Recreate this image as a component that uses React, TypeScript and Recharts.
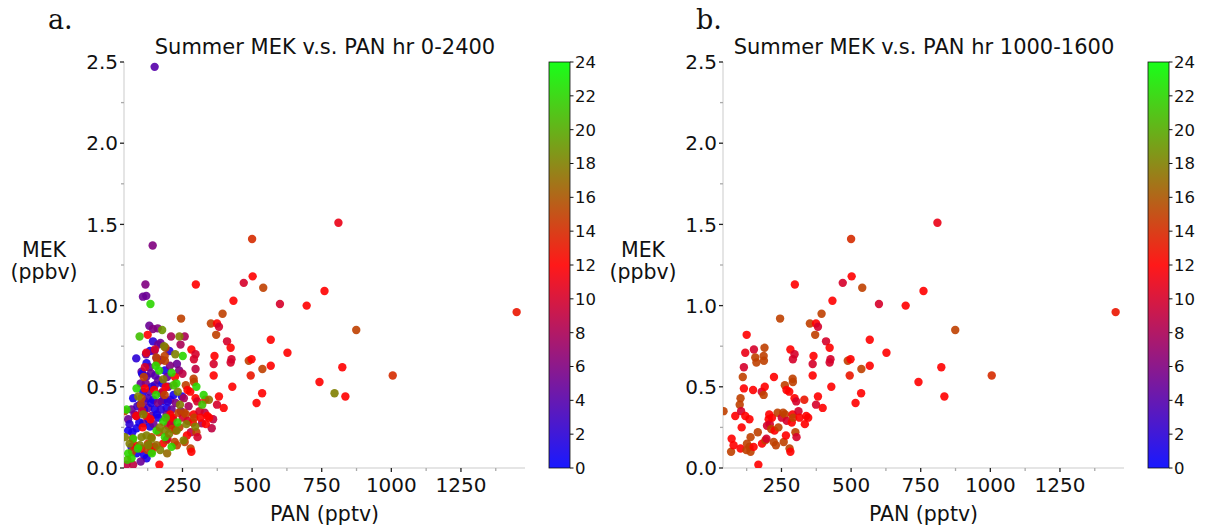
import React from "react";
import { ScatterChart, Scatter, XAxis, YAxis } from "recharts";

// [PAN pptv, MEK ppbv, hour]
const midday: number[][] = [
  [42, 0.35, 15], [69, 0.1, 15], [71, 0.18, 12], [78, 0.14, 12], [84, 0.32, 12], [100, 0.39, 15],
  [103, 0.43, 15], [103, 0.12, 12], [105, 0.35, 10], [107, 0.25, 12], [111, 0.56, 15], [115, 0.62, 10],
  [115, 0.49, 12], [120, 0.71, 11], [120, 0.32, 12], [124, 0.11, 15], [125, 0.82, 12], [126, 0.15, 15],
  [135, 0.3, 12], [135, 0.13, 15], [139, 0.19, 15], [139, 0.1, 15], [148, 0.48, 12], [150, 0.13, 12],
  [151, 0.73, 10], [156, 0.68, 15], [160, 0.65, 15], [165, 0.22, 15], [167, 0.02, 12], [179, 0.47, 10],
  [180, 0.15, 12], [186, 0.69, 15], [187, 0.66, 15], [189, 0.74, 15], [186, 0.45, 15], [190, 0.5, 12],
  [192, 0.17, 15], [196, 0.18, 10], [198, 0.26, 10], [204, 0.3, 12], [206, 0.33, 12], [208, 0.27, 10],
  [213, 0.24, 15], [216, 0.31, 12], [222, 0.16, 15], [223, 0.56, 12], [225, 0.23, 12], [230, 0.14, 15],
  [236, 0.34, 15], [239, 0.25, 15], [245, 0.92, 15], [251, 0.31, 10], [256, 0.34, 15], [258, 0.16, 15],
  [262, 0.51, 15], [263, 0.33, 15], [266, 0.2, 12], [268, 0.48, 12], [269, 0.29, 10], [278, 0.47, 12],
  [279, 0.12, 15], [282, 0.73, 12], [282, 0.1, 12], [287, 0.28, 12], [290, 0.33, 12], [290, 0.55, 15],
  [291, 0.53, 15], [291, 0.67, 10], [292, 0.31, 15], [297, 0.7, 10], [297, 0.43, 12], [298, 1.13, 12],
  [300, 0.22, 15], [303, 0.41, 10], [304, 0.19, 10], [311, 0.35, 10], [315, 0.31, 12], [332, 0.42, 13],
  [334, 0.27, 12], [339, 0.32, 12], [346, 0.31, 12], [352, 0.89, 15], [362, 0.64, 10], [362, 0.57, 12],
  [365, 0.69, 12], [371, 0.82, 15], [374, 0.89, 12], [374, 0.39, 10], [381, 0.87, 10], [381, 0.44, 12],
  [394, 0.95, 15], [398, 0.37, 12], [410, 0.78, 10], [423, 0.74, 12], [423, 0.65, 10], [426, 0.67, 10],
  [429, 0.5, 12], [433, 1.03, 12], [470, 1.14, 10], [488, 0.66, 15], [495, 0.57, 13], [498, 0.67, 12],
  [500, 1.41, 14], [502, 1.18, 12], [516, 0.4, 12], [536, 0.46, 12], [537, 0.61, 15], [540, 1.11, 15],
  [567, 0.79, 12], [567, 0.63, 12], [600, 1.01, 10], [627, 0.71, 12], [696, 1.0, 12], [742, 0.53, 12],
  [760, 1.09, 12], [810, 1.51, 11], [824, 0.62, 12], [835, 0.44, 12], [874, 0.85, 15], [1005, 0.57, 14],
  [1450, 0.96, 13],
];

// points outside 10-16 h, only in panel a
const offHours: number[][] = [
  [150, 2.47, 4], [143, 1.37, 6], [117, 1.13, 6], [108, 1.055, 5], [120, 1.06, 5], [135, 1.01, 22],
  [131, 0.876, 5], [144, 0.856, 6], [161, 0.86, 6], [177, 0.85, 19], [96, 0.81, 21], [209, 0.81, 8],
  [239, 0.81, 18], [258, 0.81, 8], [279, 1.09, 16], [144, 0.78, 2], [171, 0.77, 5], [243, 0.76, 8],
  [84, 0.675, 2], [251, 0.69, 22], [297, 0.61, 9], [796, 0.46, 18], [355, 0.245, 9], [300, 0.5, 22],
  [228, 0.52, 22], [321, 0.39, 21], [326, 0.45, 22], [119, 0.7, 5], [133, 0.72, 1], [149, 0.72, 5],
  [163, 0.76, 5], [184, 0.75, 18], [203, 0.72, 2], [224, 0.7, 18], [121, 0.645, 1], [154, 0.63, 22],
  [157, 0.675, 5], [175, 0.665, 6], [230, 0.64, 5], [211, 0.587, 22], [187, 0.6, 1], [137, 0.583, 5],
  [103, 0.593, 5], [121, 0.563, 4], [163, 0.54, 5], [181, 0.546, 18], [151, 0.51, 4], [199, 0.5, 5],
  [233, 0.47, 18], [248, 0.44, 1], [85, 0.49, 22], [91, 0.44, 18], [73, 0.43, 1], [109, 0.47, 1],
  [133, 0.47, 5], [145, 0.42, 1], [175, 0.46, 5], [175, 0.41, 1], [206, 0.42, 5], [218, 0.45, 1],
  [115, 0.41, 5], [97, 0.39, 1], [67, 0.36, 5], [49, 0.36, 22], [127, 0.37, 5], [151, 0.36, 1],
  [193, 0.37, 1], [211, 0.36, 5], [241, 0.39, 18], [163, 0.31, 1], [181, 0.285, 22], [193, 0.33, 5],
  [139, 0.32, 5], [109, 0.33, 18], [85, 0.32, 5], [55, 0.3, 5], [55, 0.23, 1], [85, 0.245, 1],
  [109, 0.275, 5], [133, 0.255, 1], [157, 0.23, 22], [187, 0.23, 18], [211, 0.265, 5], [229, 0.23, 18],
  [296, 0.255, 18], [320, 0.275, 8], [43, 0.19, 18], [73, 0.18, 22], [103, 0.19, 18], [121, 0.2, 18],
  [139, 0.18, 18], [187, 0.19, 22], [211, 0.13, 22], [254, 0.17, 18], [67, 0.13, 1], [97, 0.14, 18],
  [127, 0.14, 18], [157, 0.14, 17], [55, 0.09, 22], [85, 0.09, 1], [121, 0.06, 1], [67, 0.06, 22],
  [43, 0.03, 16], [49, 0.02, 9], [73, 0.02, 9], [60, 0.27, 2], [70, 0.22, 1], [78, 0.33, 6],
  [88, 0.38, 3], [95, 0.28, 1], [100, 0.52, 5], [105, 0.58, 1], [112, 0.36, 2], [118, 0.52, 6],
  [125, 0.43, 3], [128, 0.3, 2], [131, 0.62, 5], [138, 0.4, 1], [141, 0.5, 2], [146, 0.27, 5],
  [152, 0.57, 4], [155, 0.45, 22], [158, 0.33, 1], [162, 0.4, 6], [166, 0.6, 22], [169, 0.25, 18],
  [172, 0.36, 2], [178, 0.52, 1], [183, 0.42, 5], [190, 0.31, 21], [195, 0.56, 5], [198, 0.41, 2],
  [202, 0.21, 18], [205, 0.63, 6], [214, 0.3, 1], [218, 0.51, 21], [226, 0.4, 6], [232, 0.28, 22],
  [238, 0.6, 6], [244, 0.35, 5], [255, 0.43, 8], [264, 0.27, 18], [272, 0.38, 8], [60, 0.15, 18],
  [90, 0.12, 22], [112, 0.08, 1], [140, 0.09, 22], [170, 0.11, 18], [195, 0.09, 17], [52, 0.05, 21],
  [100, 0.04, 5], [330, 0.34, 9], [345, 0.42, 17], [360, 0.3, 9], [280, 0.22, 9], [250, 0.58, 9],
];

const xMajor = [250, 500, 750, 1000, 1250];
const xMinor = [125, 375, 625, 875, 1125, 1375];
const yMajor = [0, 0.5, 1, 1.5, 2, 2.5];
const yMinor = [0.25, 0.75, 1.25, 1.75, 2.25];
const cbTicks = [0, 2, 4, 6, 8, 10, 12, 14, 16, 18, 20, 22, 24];

const FONT = "DejaVu Sans";
const TICK_FS = 20;

function hourColor(h: number) {
  const t = Math.max(0, Math.min(24, h));
  let r = 0, g = 0, b = 0;
  if (t <= 12) {
    r = (255 * t) / 12;
    b = 255 * (1 - t / 12);
  } else {
    r = (255 * (24 - t)) / 12;
    g = (255 * (t - 12)) / 12;
  }
  return `rgb(${Math.round(r)},${Math.round(g)},${Math.round(b)})`;
}

const toRows = (arr: number[][]) => arr.map(([pan, mek, hr]) => ({ pan, mek, hr }));

const panelA = [
  ...toRows(offHours.filter((p) => p[2] < 10)),
  ...toRows(midday),
  ...toRows(offHours.filter((p) => p[2] > 16)),
];
const panelB = toRows(midday);

const XTick = (props: any) => {
  const { x, y, payload } = props;
  const major = xMajor.includes(payload.value);
  return (
    <g>
      <line x1={x} x2={x} y1={y} y2={y + (major ? 4 : 3)} stroke={major ? "#222" : "#aaa"} strokeWidth={1.3} />
      {major && (
        <text x={x} y={y + 24} textAnchor="middle" fontSize={TICK_FS} fontFamily={FONT} fill="#111">
          {payload.value}
        </text>
      )}
    </g>
  );
};

const YTick = (props: any) => {
  const { x, y, payload } = props;
  const major = yMajor.includes(payload.value);
  return (
    <g>
      <line x1={x - (major ? 4 : 3)} x2={x} y1={y} y2={y} stroke={major ? "#222" : "#aaa"} strokeWidth={1.3} />
      {major && (
        <text x={x - 6} y={y} dy="0.36em" textAnchor="end" fontSize={TICK_FS} fontFamily={FONT} fill="#111">
          {payload.value.toFixed(1)}
        </text>
      )}
    </g>
  );
};

const YLabel = (props: any) => {
  const vb = props.viewBox;
  const cy = vb.y + vb.height / 2;
  return (
    <text textAnchor="middle" fontSize={20.5} fontFamily={FONT} fill="#111">
      <tspan x={44} y={cy - 15} dy="0.36em">MEK</tspan>
      <tspan x={44} y={cy + 7} dy="0.36em">(ppbv)</tspan>
    </text>
  );
};

const XLabel = (props: any) => {
  const vb = props.viewBox;
  return (
    <text x={vb.x + vb.width / 2} y={vb.y + 46} dy="0.36em" textAnchor="middle" fontSize={20.5} fontFamily={FONT} fill="#111">
      PAN (pptv)
    </text>
  );
};

const dot = (p: any) => (
  <circle cx={p.cx} cy={p.cy} r={4.2} fill={hourColor(p.payload.hr)} fillOpacity={0.9} />
);

function Colorbar() {
  const x0 = 549, w = 21, top = 62, bottom = 468;
  const h = bottom - top;
  return (
    <svg width={600} height={527} style={{ position: "absolute", left: 0, top: 0, pointerEvents: "none" }}>
      <defs>
        <linearGradient id="cbgrad" x1="0" y1="0" x2="0" y2="1">
          <stop offset="0" stopColor={hourColor(24)} />
          <stop offset="0.5" stopColor={hourColor(12)} />
          <stop offset="1" stopColor={hourColor(0)} />
        </linearGradient>
      </defs>
      <rect x={x0} y={top} width={w} height={h} fill="url(#cbgrad)" fillOpacity={0.9} stroke="#111" strokeWidth={0.8} />
      {cbTicks.map((t) => {
        const y = bottom - (t / 24) * h;
        return (
          <g key={t}>
            <line x1={x0 + w} x2={x0 + w + 3.5} y1={y} y2={y} stroke="#111" strokeWidth={1} />
            <text x={x0 + w + 5} y={y} dy="0.36em" fontSize={16.5} fontFamily={FONT} fill="#111">
              {t}
            </text>
          </g>
        );
      })}
    </svg>
  );
}

function Panel({ data, title, letter, left }: { data: any[]; title: string; letter: string; left: number }) {
  return (
    <div style={{ position: "absolute", left, top: 0, width: 600, height: 527 }}>
      <ScatterChart width={600} height={527} margin={{ top: 62, right: 75, bottom: 0, left: 0 }}>
        <XAxis
          type="number"
          dataKey="pan"
          domain={[40, 1480]}
          allowDataOverflow
          ticks={[...xMinor, ...xMajor].sort((a, b) => a - b)}
          interval={0}
          tickLine={false}
          tickSize={0}
          tickMargin={0}
          tick={<XTick />}
          axisLine={{ stroke: "#dcdcdc", strokeWidth: 1.5 }}
          height={59}
          label={<XLabel />}
        />
        <YAxis
          type="number"
          dataKey="mek"
          domain={[0, 2.5]}
          allowDataOverflow
          ticks={[...yMajor, ...yMinor].sort((a, b) => a - b)}
          interval={0}
          tickLine={false}
          tickSize={0}
          tickMargin={0}
          tick={<YTick />}
          axisLine={{ stroke: "#dcdcdc", strokeWidth: 1.5 }}
          width={124}
          label={<YLabel />}
        />
        <Scatter data={data} isAnimationActive={false} shape={dot} />
      </ScatterChart>
      <Colorbar />
      <svg width={600} height={80} style={{ position: "absolute", left: 0, top: 0, pointerEvents: "none" }}>
        <text x={letter === "a." ? 48 : 97} y={29} fontSize={27} fontFamily="DejaVu Serif" fill="#111">
          {letter}
        </text>
        <text x={325} y={54} textAnchor="middle" fontSize={21} fontFamily={FONT} fill="#111">
          {title}
        </text>
      </svg>
    </div>
  );
}

export default function App() {
  return (
    <div style={{ position: "absolute", left: 0, top: 0, width: 1205, height: 527, background: "#fff" }}>
      <Panel data={panelA} title="Summer MEK v.s. PAN hr 0-2400" letter="a." left={0} />
      <Panel data={panelB} title="Summer MEK v.s. PAN hr 1000-1600" letter="b." left={599} />
    </div>
  );
}
